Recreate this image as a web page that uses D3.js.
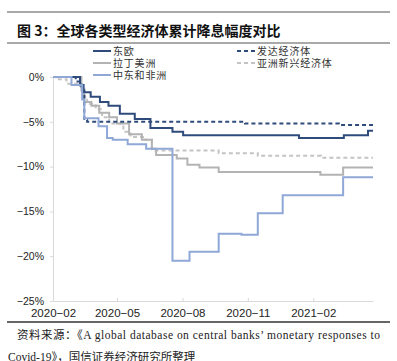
<!DOCTYPE html>
<html>
<head>
<meta charset="utf-8">
<script src="https://cdn.jsdelivr.net/npm/d3@7"></script>
<style>
  body { margin: 0; background: #fff; }
  svg { display: block; }
</style>
</head>
<body>
<svg></svg>
<script>
// series: [date, cumulative cut %]
let easternEurope = [
  ['2020-02-01', 0], ['2020-03-10', -0.9], ['2020-03-15', -1.7], ['2020-03-25', -2.2],
  ['2020-04-07', -2.8], ['2020-04-19', -3.2], ['2020-05-05', -4.1], ['2020-05-26', -4.7],
  ['2020-06-17', -5.7], ['2020-07-18', -6.1], ['2020-08-02', -6.5], ['2021-01-12', -6.8],
  ['2021-03-16', -6.5], ['2021-04-19', -6.0], ['2021-04-26', -6.0]
]
let advanced = [
  ['2020-02-01', 0], ['2020-03-04', -0.5], ['2020-03-12', -1.5], ['2020-03-16', -4.8],
  ['2020-03-20', -5.0], ['2020-10-28', -5.2], ['2021-03-09', -5.35], ['2021-04-26', -5.35]
]
let latinAmerica = [
  ['2020-02-01', 0], ['2020-03-12', -1.5], ['2020-03-16', -2.8], ['2020-03-26', -3.2],
  ['2020-04-06', -4.0], ['2020-04-20', -4.5], ['2020-05-01', -5.2], ['2020-05-18', -6.4],
  ['2020-06-05', -7.0], ['2020-06-19', -8.0], ['2020-06-25', -8.7], ['2020-07-24', -9.1],
  ['2020-08-08', -9.8], ['2020-08-25', -10.1], ['2020-09-21', -10.6], ['2021-02-11', -10.9],
  ['2021-03-15', -10.1], ['2021-04-26', -10.1]
]
let asiaEmerging = [
  ['2020-02-01', 0], ['2020-02-05', -0.25], ['2020-02-20', -0.75], ['2020-03-10', -1.0],
  ['2020-03-16', -2.2], ['2020-03-20', -3.0], ['2020-04-01', -3.6], ['2020-04-10', -4.5],
  ['2020-04-20', -5.2], ['2020-05-10', -6.1], ['2020-05-20', -6.7], ['2020-06-10', -7.0],
  ['2020-06-19', -8.2], ['2020-09-21', -8.5], ['2020-11-15', -8.8], ['2021-02-12', -9.0],
  ['2021-04-26', -9.0]
]
let meAfrica = [
  ['2020-02-01', 0], ['2020-02-27', -0.9], ['2020-03-13', -2.5], ['2020-03-16', -4.6],
  ['2020-04-05', -5.5], ['2020-04-17', -6.8], ['2020-04-25', -7.0], ['2020-05-16', -7.5],
  ['2020-06-11', -8.0], ['2020-07-18', -20.5], ['2020-08-11', -19.5], ['2020-09-21', -17.5],
  ['2020-10-23', -17.6], ['2020-11-15', -15.2], ['2020-12-20', -13.2], ['2021-03-15', -11.2],
  ['2021-04-26', -11.2]
]

let seriesNames = ['东欧', '发达经济体', '拉丁美洲', '亚洲新兴经济体', '中东和非洲']
let seriesData = [easternEurope, advanced, latinAmerica, asiaEmerging, meAfrica]
let yTicks = [0, -5, -10, -15, -20, -25]
let xTicks = ['2020-02-01', '2020-05-01', '2020-08-01', '2020-11-01', '2021-02-01']

let styles = [
  { color: '#2f4b7c', dash: null },
  { color: '#2f4b7c', dash: '4,3' },
  { color: '#b3b3b3', dash: null },
  { color: '#c4c4c4', dash: '4,3' },
  { color: '#8fa8d8', dash: null }
]

let width = 397
let height = 361
let parse = d3.timeParse('%Y-%m-%d')

let svg = d3.select('svg').attr('width', width).attr('height', height)

// header / footer rules
let rule = (y, w, c) => {
  svg.append('line').attr('x1', 7).attr('x2', 390).attr('y1', y).attr('y2', y)
     .attr('stroke', c).attr('stroke-width', w)
}
rule(12, 1.2, '#555')
rule(43, 1.2, '#555')
rule(322, 2, '#666')

svg.append('text')
   .attr('x', 17).attr('y', 36)
   .attr('font-family', '"Noto Sans CJK SC", sans-serif')
   .attr('font-weight', 'bold')
   .attr('font-size', 14)
   .attr('fill', '#111')
   .text('图 3：全球各类型经济体累计降息幅度对比')

// scales
let xScale = d3.scaleTime()
  .domain([parse('2020-02-01'), parse('2021-04-26')])
  .range([53, 373])
let yScale = d3.scaleLinear()
  .domain([-25, 0])
  .range([301, 77])

// axes
let xAxis = d3.axisBottom(xScale)
  .tickValues(xTicks.map(parse))
  .tickFormat(d3.timeFormat('%Y-%m'))
  .tickSizeInner(-3).tickSizeOuter(0).tickPadding(8)
let gx = svg.append('g').attr('transform', 'translate(0,301)').call(xAxis)
gx.select('.domain').attr('stroke', '#d9d9d9')
gx.selectAll('.tick line').attr('stroke', '#d9d9d9')
gx.selectAll('text').attr('font-family', '"Liberation Sans", Arial, sans-serif')
  .attr('font-size', 11.5).attr('fill', '#222').text(function () { return this.textContent.replace('-', '\u2212') })

let yAxis = d3.axisLeft(yScale)
  .tickValues(yTicks)
  .tickFormat(d => (d < 0 ? '\u2212' + Math.abs(d) : d) + '%')
  .tickSizeInner(3).tickSizeOuter(0).tickPadding(6)
let gy = svg.append('g').attr('transform', 'translate(53,0)').call(yAxis)
gy.select('.domain').attr('stroke', '#d9d9d9')
gy.selectAll('.tick line').attr('stroke', '#d9d9d9')
gy.selectAll('text').attr('font-family', '"Liberation Sans", Arial, sans-serif')
  .attr('font-size', 10.5).attr('fill', '#222')

// lines
let line = d3.line()
  .x(d => xScale(parse(d[0])))
  .y(d => yScale(d[1]))
  .curve(d3.curveStepAfter)

let order = [3, 2, 1, 0, 4]
order.forEach(i => {
  svg.append('path')
     .datum(seriesData[i])
     .attr('d', line)
     .attr('fill', 'none')
     .attr('stroke', styles[i].color)
     .attr('stroke-width', 2)
     .attr('stroke-dasharray', styles[i].dash)
})

// legend
let legendPos = [[93, 51], [237, 51], [93, 63], [237, 63], [93, 75]]
seriesNames.forEach((name, i) => {
  let [lx, ly] = legendPos[i]
  svg.append('line')
     .attr('x1', lx).attr('x2', lx + 18).attr('y1', ly).attr('y2', ly)
     .attr('stroke', styles[i].color).attr('stroke-width', 2)
     .attr('stroke-dasharray', styles[i].dash)
  svg.append('text')
     .attr('x', lx + 20).attr('y', ly + 3.5)
     .attr('font-family', '"Noto Sans CJK SC", sans-serif')
     .attr('font-size', 10).attr('letter-spacing', 0.8).attr('fill', '#333')
     .text(name)
})

// source note
svg.append('text')
  .attr('x', 17).attr('y', 339)
  .attr('font-family', '"Liberation Serif", "Noto Sans CJK SC", serif')
  .attr('font-size', 11.5).attr('fill', '#222')
  .attr('textLength', 363).attr('lengthAdjust', 'spacing')
  .text('资料来源：《A global database on central banks’ monetary responses to')
svg.append('text')
  .attr('x', 8).attr('y', 361)
  .attr('font-family', '"Liberation Serif", "Noto Sans CJK SC", serif')
  .attr('font-size', 11.5).attr('fill', '#222')
  .text('Covid-19》，国信证券经济研究所整理')
</script>
</body>
</html>
